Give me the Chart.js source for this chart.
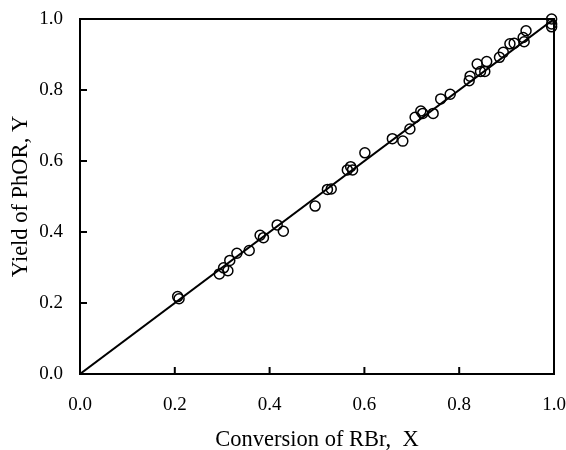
<!DOCTYPE html>
<html>
<head>
<meta charset="utf-8">
<title>Yield of PhOR vs conversion of RBr</title>
<script src="https://cdn.jsdelivr.net/npm/chart.js@4.4.1/dist/chart.umd.min.js"></script>
<style>
  html, body { margin: 0; padding: 0; background: #fff; }
  canvas { display: block; }
</style>
</head>
<body>
<canvas id="yieldChart" width="566" height="450"></canvas>
<script>
// measured conversion of RBr (X) and yield of PhOR (Y)
const conversionX = [
  0.206, 0.209, 0.294, 0.303, 0.312, 0.316, 0.331, 0.357, 0.380, 0.387,
  0.416, 0.429, 0.496, 0.522, 0.530, 0.564, 0.571, 0.575, 0.601, 0.659,
  0.681, 0.696, 0.707, 0.719, 0.723, 0.745, 0.761, 0.781, 0.821, 0.823,
  0.838, 0.845, 0.854, 0.858, 0.885, 0.893, 0.907, 0.916, 0.937, 0.935,
  0.941, 0.995, 0.995, 0.995
];
const yieldY = [
  0.218, 0.212, 0.282, 0.299, 0.291, 0.320, 0.340, 0.348, 0.391, 0.384,
  0.420, 0.402, 0.473, 0.520, 0.521, 0.575, 0.584, 0.575, 0.623, 0.663,
  0.656, 0.690, 0.723, 0.741, 0.734, 0.734, 0.775, 0.788, 0.826, 0.839,
  0.873, 0.852, 0.852, 0.880, 0.892, 0.906, 0.930, 0.932, 0.936, 0.948,
  0.967, 1.000, 0.986, 0.978
];
// Y = X reference line
const lineX = [0, 1];
const lineY = [0, 1];
const tickValues = [0, 0.2, 0.4, 0.6, 0.8, 1.0];

const xTitle = 'Conversion of RBr,  X';
const yTitle = 'Yield of PhOR, Y';
const serif = "'Liberation Serif', 'Times New Roman', serif";
const TICK = 7;

// box round the plot, inward ticks and the two axis titles
const frameAndTicks = {
  id: 'frameAndTicks',
  beforeDatasetsDraw(chart) {
    const { ctx, chartArea: a, scales: { x, y } } = chart;
    ctx.save();
    ctx.strokeStyle = '#000';
    ctx.lineWidth = 2;
    ctx.strokeRect(a.left, a.top, a.right - a.left, a.bottom - a.top);
    ctx.beginPath();
    tickValues.forEach(v => {
      const px = x.getPixelForValue(v);
      ctx.moveTo(px, a.bottom);
      ctx.lineTo(px, a.bottom - TICK);
      const py = y.getPixelForValue(v);
      ctx.moveTo(a.left, py);
      ctx.lineTo(a.left + TICK, py);
    });
    ctx.stroke();
    ctx.restore();
  },
  afterDraw(chart) {
    const { ctx, chartArea: a } = chart;
    ctx.save();
    ctx.fillStyle = '#000';
    ctx.font = '22.5px ' + serif;
    ctx.textAlign = 'center';
    ctx.textBaseline = 'middle';
    ctx.fillText(xTitle, (a.left + a.right) / 2, a.bottom + 66);
    ctx.translate(21, (a.top + a.bottom) / 2);
    ctx.rotate(-Math.PI / 2);
    ctx.fillText(yTitle, 0, 0);
    ctx.restore();
  }
};

const tickFont = { family: serif, size: 19 };

new Chart(document.getElementById('yieldChart'), {
  type: 'scatter',
  data: {
    datasets: [
      {
        type: 'line',
        data: lineX.map((v, i) => ({ x: v, y: lineY[i] })),
        borderColor: '#000',
        borderWidth: 2,
        pointRadius: 0,
        fill: false
      },
      {
        data: conversionX.map((v, i) => ({ x: v, y: yieldY[i] })),
        pointStyle: 'circle',
        pointRadius: 5,
        borderWidth: 1.5,
        borderColor: '#000',
        backgroundColor: 'rgba(0,0,0,0)',
        clip: false
      }
    ]
  },
  options: {
    responsive: false,
    animation: false,
    layout: { padding: { top: 19, right: 12, left: 0, bottom: 0 } },
    plugins: {
      legend: { display: false },
      tooltip: { enabled: false }
    },
    scales: {
      x: {
        type: 'linear',
        min: 0,
        max: 1,
        // fixed band under the plot; no extra room for the end labels
        afterFit: s => {
          s.height = 76;
          s.paddingLeft = 0;
          s.paddingRight = 0;
        },
        grid: { display: false, drawTicks: false },
        border: { display: false },
        ticks: {
          stepSize: 0.2,
          padding: 20,
          color: '#000',
          font: tickFont,
          callback: v => v.toFixed(1)
        }
      },
      y: {
        type: 'linear',
        min: 0,
        max: 1,
        afterFit: s => {
          s.width = 80;
          s.paddingTop = 0;
          s.paddingBottom = 0;
        },
        grid: { display: false, drawTicks: false },
        border: { display: false },
        ticks: {
          stepSize: 0.2,
          padding: 17,
          color: '#000',
          font: tickFont,
          callback: v => v.toFixed(1)
        }
      }
    }
  },
  plugins: [frameAndTicks]
});
</script>
</body>
</html>
